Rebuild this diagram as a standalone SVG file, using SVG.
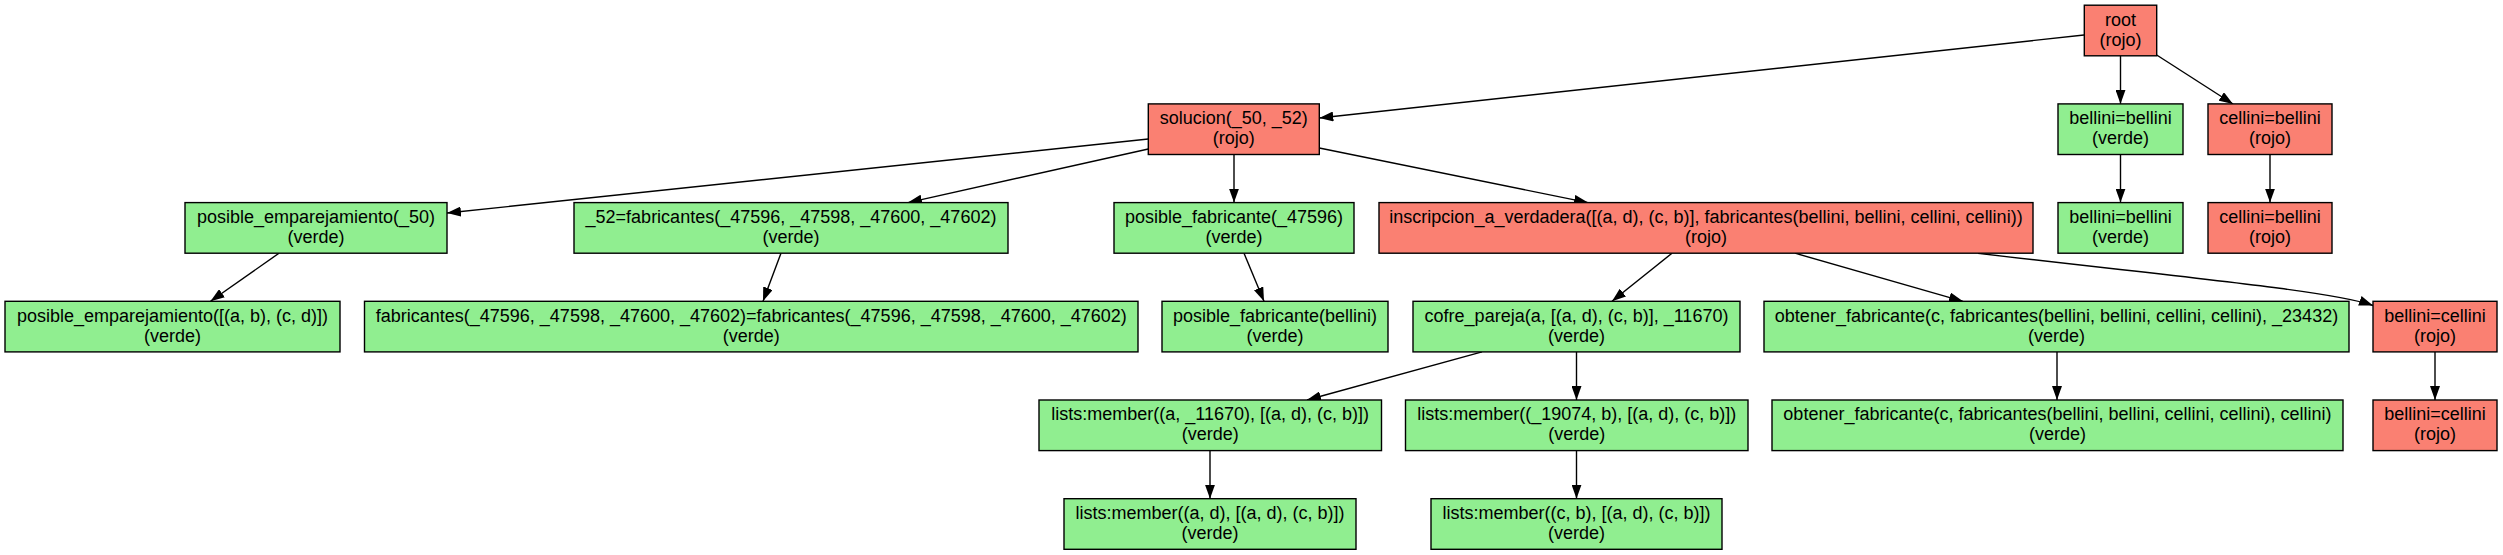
<svg xmlns="http://www.w3.org/2000/svg" width="2503" height="555" viewBox="0 0 2503 555">
<style>
.n rect{stroke:#000;stroke-width:1.4}
.r rect{fill:#fa8072}
.g rect{fill:#90ee90}
text{font-family:"Liberation Sans",Arial,sans-serif;font-size:18px;fill:#000;text-anchor:middle}
.e path{fill:none;stroke:#000;stroke-width:1.4;marker-end:url(#ah)}
</style>
<defs>
<marker id="ah" markerUnits="userSpaceOnUse" viewBox="0 0 14 10" refX="14" refY="5" markerWidth="14" markerHeight="10" orient="auto">
<path d="M0,0 L14,5 L0,10 z" fill="#000"/>
</marker>
</defs>
<rect width="2503" height="555" fill="#fff"/>
<g id="edges" class="e">
<path d="M2084,35 L1319.3,118"/>
<path d="M2120.5,55.8 L2120.5,103.9"/>
<path d="M2156.7,55 L2233,104"/>
<path d="M1148.3,139 L447,213"/>
<path d="M1148.3,149 L908,202.6"/>
<path d="M1234,154.5 L1234,202.6"/>
<path d="M1319.3,148 L1588,202.6"/>
<path d="M2120.5,154.5 L2120.5,202.6"/>
<path d="M2270,154.5 L2270,202.6"/>
<path d="M279,253.2 L210.5,301.3"/>
<path d="M781,253.2 L763,301.3"/>
<path d="M1244,253.2 L1264,301.3"/>
<path d="M1672,253.2 L1612,301.3"/>
<path d="M1795,253.2 L1963,301.3"/>
<path d="M1978,253.2 C2150,274 2330,290 2373,305.5"/>
<path d="M1482,351.9 L1307,400"/>
<path d="M1576.5,351.9 L1576.5,400"/>
<path d="M2057,351.9 L2057,400"/>
<path d="M2435,351.9 L2435,400"/>
<path d="M1210,450.6 L1210,498.7"/>
<path d="M1576.5,450.6 L1576.5,498.7"/>
</g>
<g id="root" class="n r"><rect x="2084.3" y="5.2" width="72.4" height="50.6"/><text x="2120.5" y="25.5">root</text><text x="2120.5" y="45.5">(rojo)</text></g>
<g id="solucion" class="n r"><rect x="1148.3" y="103.9" width="171" height="50.6"/><text x="1233.8" y="124.2">solucion(_50, _52)</text><text x="1233.8" y="144.2">(rojo)</text></g>
<g id="bb1" class="n g"><rect x="2058" y="103.9" width="125" height="50.6"/><text x="2120.5" y="124.2">bellini=bellini</text><text x="2120.5" y="144.2">(verde)</text></g>
<g id="cb1" class="n r"><rect x="2208" y="103.9" width="124" height="50.6"/><text x="2270" y="124.2">cellini=bellini</text><text x="2270" y="144.2">(rojo)</text></g>
<g id="pe50" class="n g"><rect x="185" y="202.6" width="262" height="50.6"/><text x="316" y="222.9">posible_emparejamiento(_50)</text><text x="316" y="242.9">(verde)</text></g>
<g id="f52" class="n g"><rect x="574" y="202.6" width="434" height="50.6"/><text x="791" y="222.9">_52=fabricantes(_47596, _47598, _47600, _47602)</text><text x="791" y="242.9">(verde)</text></g>
<g id="pf47596" class="n g"><rect x="1114" y="202.6" width="240" height="50.6"/><text x="1234" y="222.9">posible_fabricante(_47596)</text><text x="1234" y="242.9">(verde)</text></g>
<g id="insc" class="n r"><rect x="1379" y="202.6" width="654" height="50.6"/><text x="1706" y="222.9">inscripcion_a_verdadera([(a, d), (c, b)], fabricantes(bellini, bellini, cellini, cellini))</text><text x="1706" y="242.9">(rojo)</text></g>
<g id="bb2" class="n g"><rect x="2058" y="202.6" width="125" height="50.6"/><text x="2120.5" y="222.9">bellini=bellini</text><text x="2120.5" y="242.9">(verde)</text></g>
<g id="cb2" class="n r"><rect x="2208" y="202.6" width="124" height="50.6"/><text x="2270" y="222.9">cellini=bellini</text><text x="2270" y="242.9">(rojo)</text></g>
<g id="peabcd" class="n g"><rect x="5" y="301.3" width="335" height="50.6"/><text x="172.5" y="321.6">posible_emparejamiento([(a, b), (c, d)])</text><text x="172.5" y="341.6">(verde)</text></g>
<g id="ff" class="n g"><rect x="364.5" y="301.3" width="773.5" height="50.6"/><text x="751.3" y="321.6">fabricantes(_47596, _47598, _47600, _47602)=fabricantes(_47596, _47598, _47600, _47602)</text><text x="751.3" y="341.6">(verde)</text></g>
<g id="pfb" class="n g"><rect x="1162" y="301.3" width="226" height="50.6"/><text x="1275" y="321.6">posible_fabricante(bellini)</text><text x="1275" y="341.6">(verde)</text></g>
<g id="cofre" class="n g"><rect x="1413" y="301.3" width="327" height="50.6"/><text x="1576.5" y="321.6">cofre_pareja(a, [(a, d), (c, b)], _11670)</text><text x="1576.5" y="341.6">(verde)</text></g>
<g id="obt1" class="n g"><rect x="1764" y="301.3" width="585" height="50.6"/><text x="2056.5" y="321.6">obtener_fabricante(c, fabricantes(bellini, bellini, cellini, cellini), _23432)</text><text x="2056.5" y="341.6">(verde)</text></g>
<g id="bc1" class="n r"><rect x="2373" y="301.3" width="124" height="50.6"/><text x="2435" y="321.6">bellini=cellini</text><text x="2435" y="341.6">(rojo)</text></g>
<g id="lm1" class="n g"><rect x="1039" y="400" width="342.5" height="50.6"/><text x="1210.2" y="420.3">lists:member((a, _11670), [(a, d), (c, b)])</text><text x="1210.2" y="440.3">(verde)</text></g>
<g id="lm2" class="n g"><rect x="1405.5" y="400" width="342.5" height="50.6"/><text x="1576.7" y="420.3">lists:member((_19074, b), [(a, d), (c, b)])</text><text x="1576.7" y="440.3">(verde)</text></g>
<g id="obt2" class="n g"><rect x="1772" y="400" width="571" height="50.6"/><text x="2057.5" y="420.3">obtener_fabricante(c, fabricantes(bellini, bellini, cellini, cellini), cellini)</text><text x="2057.5" y="440.3">(verde)</text></g>
<g id="bc2" class="n r"><rect x="2373" y="400" width="124" height="50.6"/><text x="2435" y="420.3">bellini=cellini</text><text x="2435" y="440.3">(rojo)</text></g>
<g id="lm3" class="n g"><rect x="1064" y="498.7" width="292" height="50.6"/><text x="1210" y="519">lists:member((a, d), [(a, d), (c, b)])</text><text x="1210" y="539">(verde)</text></g>
<g id="lm4" class="n g"><rect x="1431" y="498.7" width="291" height="50.6"/><text x="1576.5" y="519">lists:member((c, b), [(a, d), (c, b)])</text><text x="1576.5" y="539">(verde)</text></g>
</svg>
